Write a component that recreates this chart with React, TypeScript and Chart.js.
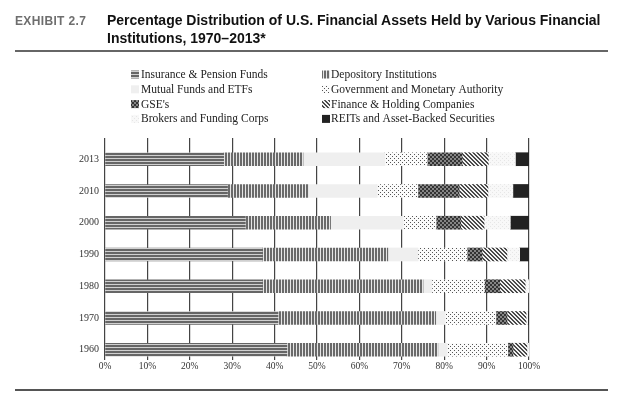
import React, { useEffect, useRef } from 'react';
import { Chart, registerables } from 'chart.js';

Chart.register(...registerables);

const YEARS = ['2013', '2010', '2000', '1990', '1980', '1970', '1960'];
const SERIES_NAMES = [
  'Insurance & Pension Funds',
  'Depository Institutions',
  'Mutual Funds and ETFs',
  'Government and Monetary Authority',
  "GSE's",
  'Finance & Holding Companies',
  'Brokers and Funding Corps',
  'REITs and Asset-Backed Securities',
];
const INSURANCE = [28.0, 28.9, 33.1, 37.1, 37.1, 40.8, 42.9];
const DEPOSITORY = [18.7, 19.1, 20.1, 29.6, 37.9, 37.2, 35.6];
const MUTUAL = [19.3, 16.2, 17.1, 7.1, 2.1, 2.2, 2.2];
const GOVERNMENT = [10.0, 9.6, 7.8, 11.6, 12.4, 12.0, 14.3];
const GSE = [8.2, 9.7, 5.8, 3.5, 3.6, 2.6, 1.2];
const FINANCE = [6.2, 6.8, 5.5, 5.9, 6.0, 4.5, 3.3];
const BROKERS = [6.4, 5.9, 6.2, 3.0, 0.9, 0.4, 0.5];
const REITS = [3.2, 3.8, 4.4, 2.2, 0, 0.3, 0];
const SERIES_VALUES = [INSURANCE, DEPOSITORY, MUTUAL, GOVERNMENT, GSE, FINANCE, BROKERS, REITS];
const X_MIN = 0;
const X_MAX = 100;
const X_STEP = 10;

function tile(w: number, h: number, draw: (c: CanvasRenderingContext2D) => void): CanvasPattern | string {
  const cv = document.createElement('canvas');
  cv.width = w;
  cv.height = h;
  const c = cv.getContext('2d')!;
  draw(c);
  const p = c.createPattern(cv, 'repeat');
  return p || '#888';
}

function makeFills(): (CanvasPattern | string)[] {
  const insurance = tile(1, 3, (c) => {
    c.fillStyle = '#666';
    c.fillRect(0, 0, 1, 3);
    c.fillStyle = '#d0d0d0';
    c.fillRect(0, 2, 1, 1);
  });
  const depository = tile(3, 1, (c) => {
    c.fillStyle = '#6a6a6a';
    c.fillRect(0, 0, 3, 1);
    c.fillStyle = '#e6e6e6';
    c.fillRect(2, 0, 1, 1);
  });
  const mutual = '#efefef';
  const government = tile(4, 4, (c) => {
    c.fillStyle = '#fbfbfb';
    c.fillRect(0, 0, 4, 4);
    c.fillStyle = '#555';
    c.fillRect(0, 0, 1, 1);
    c.fillRect(2, 2, 1, 1);
  });
  const gse = tile(4, 4, (c) => {
    c.fillStyle = '#858585';
    c.fillRect(0, 0, 4, 4);
    c.fillStyle = '#333';
    for (let i = 0; i < 4; i++) {
      c.fillRect(3 - i, i, 1, 1);
      c.fillRect((i + 2) % 4, i, 1, 1);
    }
  });
  const finance = tile(4, 4, (c) => {
    c.fillStyle = '#f2f2f2';
    c.fillRect(0, 0, 4, 4);
    c.fillStyle = '#4a4a4a';
    for (let i = 0; i < 4; i++) {
      c.fillRect(i, i, 1, 1);
      c.fillRect((i + 1) % 4, i, 1, 1);
    }
  });
  const brokers = tile(4, 4, (c) => {
    c.fillStyle = '#f8f8f8';
    c.fillRect(0, 0, 4, 4);
    c.fillStyle = '#e6e6e6';
    c.fillRect(0, 0, 1, 1);
    c.fillRect(2, 2, 1, 1);
  });
  const reits = '#222222';
  return [insurance, depository, mutual, government, gse, finance, brokers, reits];
}

const legendPlugin = {
  id: 'customLegend',
  afterDraw(chart: any) {
    const ctx = chart.ctx as CanvasRenderingContext2D;
    ctx.save();
    ctx.font = '11.5px "Liberation Serif", serif';
    ctx.textBaseline = 'middle';
    ctx.textAlign = 'left';
    chart.data.datasets.forEach((ds: any, i: number) => {
      const col = i % 2;
      const row = Math.floor(i / 2);
      const sx = col === 0 ? 131 : 322;
      const tx = col === 0 ? 141 : 331;
      const cy = 74.5 + row * 14.8;
      ctx.fillStyle = ds.backgroundColor;
      ctx.fillRect(sx, cy - 4, 8, 8);
      ctx.fillStyle = '#222';
      ctx.fillText(ds.label, tx, cy + 0.5);
    });
    ctx.restore();
  },
};

export default function App() {
  const ref = useRef<HTMLCanvasElement>(null);
  useEffect(() => {
    if (!ref.current) return;
    const fills = makeFills();
    const chart = new Chart(ref.current, {
      type: 'bar',
      data: {
        datasets: SERIES_NAMES.map((name, s) => ({
          label: name,
          data: SERIES_VALUES[s].map((v, i) => ({ x: v, y: i })),
          backgroundColor: fills[s] as any,
          borderWidth: 0,
          barThickness: 13,
        })),
      },
      options: {
        indexAxis: 'y',
        animation: false,
        responsive: false,
        layout: { padding: { top: 138, bottom: 18, left: 0, right: 95 } },
        plugins: { legend: { display: false }, tooltip: { enabled: false }, title: { display: false } },
        scales: {
          x: {
            type: 'linear',
            min: X_MIN,
            max: X_MAX,
            stacked: true,
            z: 1,
            border: { display: false },
            grid: { color: '#444', lineWidth: 1.2, tickLength: 3, drawTicks: true },
            ticks: {
              stepSize: X_STEP,
              padding: 1,
              color: '#333',
              font: { family: '"Liberation Serif", serif', size: 9.5 },
              callback: (v: any) => v + '%',
            },
            afterFit: (s: any) => {
              s.height = 20;
            },
          },
          y: {
            type: 'linear',
            reverse: true,
            offset: false,
            min: -0.668,
            max: 6.229,
            stacked: true,
            grid: { display: false, drawTicks: false },
            border: { display: false },
            afterBuildTicks: (s: any) => {
              s.ticks = YEARS.map((_, i) => ({ value: i }));
            },
            ticks: {
              padding: 6,
              color: '#333',
              font: { family: '"Liberation Serif", serif', size: 10 },
              callback: (v: any) => YEARS[v as number],
            },
            afterFit: (s: any) => {
              s.width = 105;
            },
          },
        },
      },
      plugins: [legendPlugin],
    } as any);
    return () => chart.destroy();
  }, []);

  return (
    <div style={{ position: 'absolute', left: 0, top: 0, width: 624, height: 395, background: '#fff', overflow: 'hidden' }}>
      <canvas ref={ref} width={624} height={395} style={{ position: 'absolute', left: 0, top: 0 }} />
      <div
        style={{
          position: 'absolute',
          left: 15,
          top: 12,
          fontFamily: '"Liberation Sans", Arial, sans-serif',
          fontWeight: 700,
          fontSize: 12,
          lineHeight: '18px',
          letterSpacing: 0.35,
          color: '#6e6e6e',
          whiteSpace: 'nowrap',
        }}
      >
        EXHIBIT 2.7
      </div>
      <div
        style={{
          position: 'absolute',
          left: 107,
          top: 11,
          fontFamily: '"Liberation Sans", Arial, sans-serif',
          fontWeight: 700,
          fontSize: 14,
          lineHeight: '18px',
          color: '#111',
          whiteSpace: 'nowrap',
        }}
      >
        Percentage Distribution of U.S. Financial Assets Held by Various Financial
        <br />
        Institutions, 1970–2013*
      </div>
      <div style={{ position: 'absolute', left: 15, top: 50, width: 593, height: 2, background: '#666' }} />
      <div style={{ position: 'absolute', left: 15, top: 389, width: 593, height: 2, background: '#555' }} />
    </div>
  );
}
